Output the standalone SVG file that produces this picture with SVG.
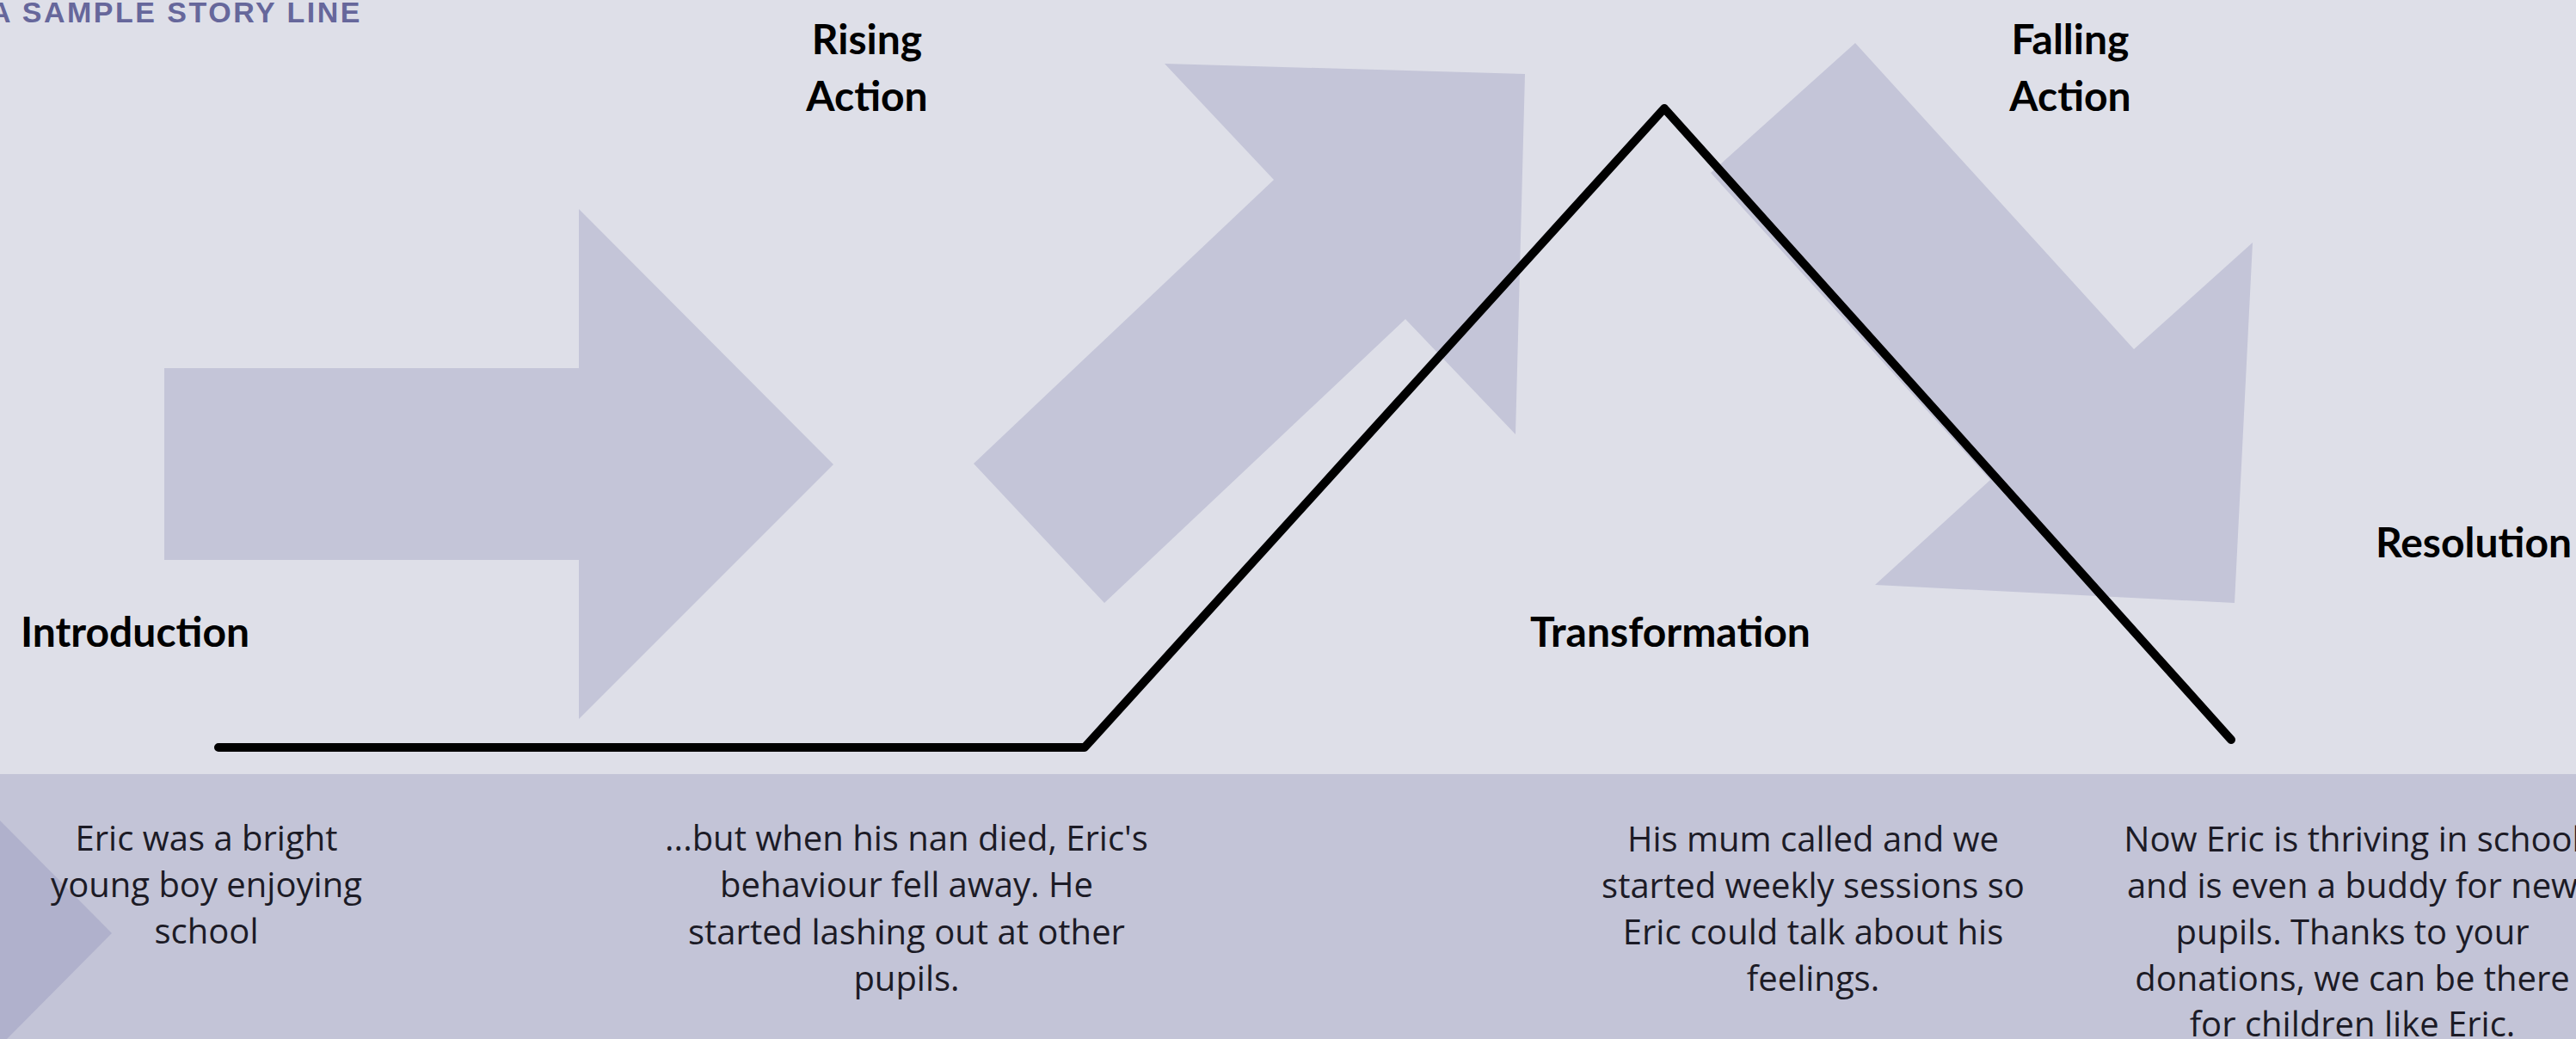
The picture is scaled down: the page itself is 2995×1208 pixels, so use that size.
<svg xmlns="http://www.w3.org/2000/svg" width="2995" height="1208" viewBox="0 0 2995 1208">
<style>
.bg{fill:#dedfe8}
.band{fill:#c3c4d7}
.arrow{fill:#c4c5d8}
.tri{fill:#b0b1cc}
.head{font-family:Lato,"Liberation Sans",sans-serif;font-weight:700;font-size:48px;fill:#000;text-anchor:middle}
.body{font-family:"Open Sans","Liberation Sans",sans-serif;font-size:40px;fill:#1c1b26;text-anchor:middle}
.title{font-family:"Liberation Sans",Arial,sans-serif;font-weight:700;font-size:34px;fill:#66679b;letter-spacing:2.5px}
.story{fill:none;stroke:#000;stroke-width:10;stroke-linecap:round;stroke-linejoin:round}
</style>
<rect class="bg" x="0" y="0" width="2995" height="1208"/>
<rect class="band" x="0" y="900" width="2995" height="308"/>
<polygon class="tri" points="0,954 130,1085 0,1216"/>
<g id="arrows">
<polygon class="arrow" points="191,428 673,428 673,243 969,540 673,836 673,651 191,651"/>
<polygon class="arrow" points="1132,539 1481,209 1354,74 1773,86 1762,505 1634,371 1284,701"/>
<polygon class="arrow" points="1989,201 2157,50 2481,406 2619,282 2598,701 2180,680 2314,558"/>
</g>
<text class="title" x="-12" y="26">A SAMPLE STORY LINE</text>
<g id="connectors">
<polyline class="story" points="254,869 1261,869 1935,126 2594,860"/>
</g>
<g id="introduction">
<text class="head" x="157" y="752">Introduction</text>
<text class="body"><tspan x="240" y="989">Eric was a bright</tspan><tspan x="240" y="1043">young boy enjoying</tspan><tspan x="240" y="1097">school</tspan></text>
</g>
<g id="rising-action">
<text class="head"><tspan x="1008" y="63">Rising</tspan><tspan x="1008" y="129">Action</tspan></text>
<text class="body"><tspan x="1054" y="989">...but when his nan died, Eric's</tspan><tspan x="1054" y="1043">behaviour fell away. He</tspan><tspan x="1054" y="1098">started lashing out at other</tspan><tspan x="1054" y="1152">pupils.</tspan></text>
</g>
<g id="transformation">
<text class="head" x="1942" y="752">Transformation</text>
<text class="body"><tspan x="2108" y="990">His mum called and we</tspan><tspan x="2108" y="1044">started weekly sessions so</tspan><tspan x="2108" y="1098">Eric could talk about his</tspan><tspan x="2108" y="1152">feelings.</tspan></text>
</g>
<g id="falling-action">
<text class="head"><tspan x="2407" y="63">Falling</tspan><tspan x="2407" y="129">Action</tspan></text>
</g>
<g id="resolution">
<text class="head" x="2876" y="648">Resolution</text>
<text class="body"><tspan x="2735" y="990">Now Eric is thriving in school</tspan><tspan x="2735" y="1044">and is even a buddy for new</tspan><tspan x="2735" y="1098">pupils. Thanks to your</tspan><tspan x="2735" y="1152">donations, we can be there</tspan><tspan x="2735" y="1205">for children like Eric.</tspan></text>
</g>
</svg>
